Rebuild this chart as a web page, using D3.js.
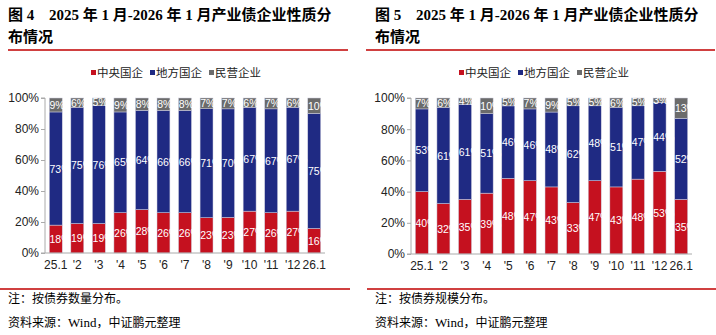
<!DOCTYPE html>
<html><head><meta charset="utf-8">
<script src="https://cdn.jsdelivr.net/npm/d3@7"></script>
<style>
html,body{margin:0;padding:0;background:#fff;}
svg{display:block;}
</style></head>
<body>
<svg id="c" width="716" height="335"></svg>
<script>
const categories = ["25.1","'2","'3","'4","'5","'6","'7","'8","'9","'10","'11","'12","26.1"];
const seriesNames = ["中央国企","地方国企","民营企业"];
const colors = ["#C5111F","#1F2A83","#6B6B6B"];
const yTicks = [0,20,40,60,80,100];

// 图4: 按债券数量
const countCentral = [18,19,19,26,28,26,26,23,23,27,26,27,16];
const countLocal   = [73,75,76,65,64,66,66,71,70,67,67,67,75];
const countPrivate = [9,6,5,9,8,8,8,7,7,6,7,6,10];

// 图5: 按债券规模
const scaleCentral = [40,32,35,39,48,47,43,33,47,43,48,53,35];
const scaleLocal   = [53,61,61,51,46,46,48,62,48,51,47,44,52];
const scalePrivate = [7,6,4,10,5,7,9,5,5,6,5,3,13];

const svg = d3.select("#c");
const cjk = "'Noto Sans CJK SC','Noto Sans',sans-serif";
const latin = "'Liberation Sans',Arial,'Noto Sans CJK SC',sans-serif";

function panel(opt){
  const g = svg.append("g");
  const tf = "'Liberation Serif','Noto Sans CJK SC',serif";
  g.append("text").attr("x",opt.tx).attr("y",20)
    .attr("font-size",15).attr("font-weight","bold")
    .attr("font-family",tf).attr("fill","#000").text(opt.title1a);
  g.append("text").attr("x",opt.tx + opt.gapX).attr("y",20)
    .attr("font-size",15).attr("font-weight","bold")
    .attr("font-family",tf).attr("fill","#000")
    .text(opt.title1b);
  g.append("text").attr("x",opt.tx).attr("y",42)
    .attr("font-size",15).attr("font-weight","bold")
    .attr("font-family","'Noto Sans CJK SC',serif").attr("fill","#000")
    .text("布情况");
  g.append("line").attr("x1",opt.lx1).attr("x2",opt.lx2).attr("y1",50).attr("y2",50)
    .attr("stroke","#C00000").attr("stroke-width",1.3);
  g.append("line").attr("x1",opt.bx1).attr("x2",opt.bx2).attr("y1",289).attr("y2",289)
    .attr("stroke","#C00000").attr("stroke-width",1.3);
  g.append("text").attr("x",opt.tx).attr("y",303).attr("font-size",12)
    .attr("font-family",cjk).attr("fill","#000").text(opt.note);
  const src = g.append("text").attr("x",opt.tx).attr("y",327).attr("font-size",12)
    .attr("font-family",cjk).attr("fill","#000");
  src.append("tspan").text("资料来源：");
  src.append("tspan").attr("font-family","'Liberation Serif',serif").attr("font-size",13).text("Wind");
  src.append("tspan").text("，中证鹏元整理");

  // legend
  const lg = g.append("g");
  let lx = opt.legX;
  seriesNames.forEach((n,i)=>{
    lg.append("rect").attr("x",lx).attr("y",70).attr("width",5).attr("height",5).attr("fill",colors[i]);
    lg.append("text").attr("x",lx+6).attr("y",77).attr("font-size",11.5)
      .attr("font-family",cjk).attr("fill","#222").text(n);
    lx += [59,59,0][i];
  });

  const x = d3.scaleBand().domain(categories).range([opt.x0,opt.x1]).paddingInner(0.4).paddingOuter(0.2);
  const y = d3.scaleLinear().domain([0,100]).range([opt.y0,opt.y1]);

  const rows = categories.map((c,i)=>({cat:c, a:opt.data[0][i], b:opt.data[1][i], c:opt.data[2][i]}));
  const stack = d3.stack().keys(["a","b","c"]).offset(d3.stackOffsetExpand);
  const layers = stack(rows);

  layers.forEach((layer,li)=>{
    g.append("g").selectAll("rect").data(layer).join("rect")
      .attr("x",d=>x(d.data.cat))
      .attr("width",x.bandwidth())
      .attr("y",d=>y(d[1]*100))
      .attr("height",d=>y(d[0]*100)-y(d[1]*100))
      .attr("fill",colors[li])
      .attr("stroke","#d0d0e0").attr("stroke-width",0.5);
  });
  layers.forEach((layer,li)=>{
    g.append("g").selectAll("text").data(layer).join("text")
      .attr("x",d=>x(d.data.cat)+0.2)
      .attr("y",d=>(y(d[1]*100)+y(d[0]*100))/2+4)
      .attr("text-anchor","start").attr("font-size",10.5)
      .attr("font-family",latin).attr("fill","#fff")
      .text(d=>d.data[["a","b","c"][li]]+"%");
  });

  // axes
  const ya = g.append("g").attr("transform",`translate(${opt.x0},0)`)
    .call(d3.axisLeft(y).tickValues(yTicks).tickFormat(d=>d+"%").tickSize(4).tickPadding(2));
  ya.select(".domain").attr("stroke","#aaa").attr("d",`M-4,${opt.y0}H0V${opt.y1}H-4`);
  ya.selectAll(".tick line").attr("stroke","#aaa");
  ya.selectAll(".tick text").attr("font-size",12).attr("font-family",latin).attr("fill","#222");

  const xa = g.append("g").attr("transform",`translate(0,${opt.y0})`)
    .call(d3.axisBottom(x).tickSize(0).tickPadding(7));
  xa.select(".domain").attr("stroke","#aaa").attr("d",`M${opt.x0},0H${opt.x1}`);
  xa.selectAll(".tick text").attr("font-size",12).attr("font-family",latin).attr("fill","#222");
}

panel({title1a:"图 4", title1b:"2025 年 1 月-2026 年 1 月产业债企业性质分", gapX:41, tx:8,
  lx1:8, lx2:348, bx1:0, bx2:350, legX:91,
  note:"注：按债券数量分布。", x0:45, x1:325, y0:253, y1:98,
  data:[countCentral,countLocal,countPrivate]});
panel({title1a:"图 5", title1b:"2025 年 1 月-2026 年 1 月产业债企业性质分", gapX:41, tx:375,
  lx1:366, lx2:715, bx1:367, bx2:716, legX:459,
  note:"注：按债券规模分布。", x0:411, x1:692, y0:254, y1:98,
  data:[scaleCentral,scaleLocal,scalePrivate]});
</script>
</body></html>
